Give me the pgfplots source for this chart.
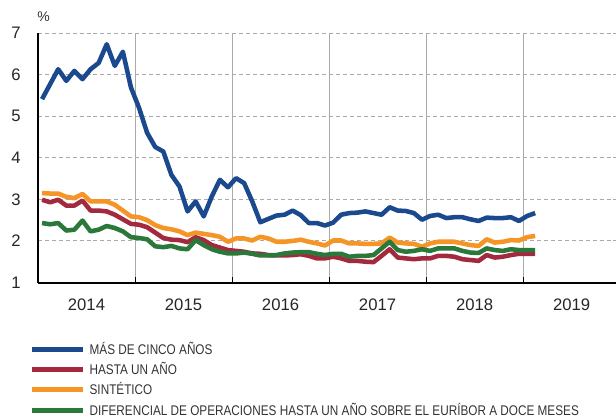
\documentclass[border=0pt]{standalone}
\usepackage{fontspec}
\setmainfont{Liberation Sans}
\newfontfamily\legfont[FakeStretch=0.84]{Liberation Sans}
\usepackage{pgfplots}
\usepackage{pgfplotstable}
\pgfplotsset{compat=1.18}
\definecolor{cblue}{RGB}{26,73,142}
\definecolor{cred}{RGB}{163,42,62}
\definecolor{corange}{RGB}{244,149,38}
\definecolor{cgreen}{RGB}{42,120,58}
\definecolor{cgrid}{RGB}{170,170,170}
\pgfplotstableread{
m b r o g
0.5 5.41 2.99 3.15 2.43
1.5 5.77 2.93 3.14 2.40
2.5 6.13 2.99 3.14 2.43
3.5 5.85 2.85 3.06 2.25
4.5 6.09 2.85 3.03 2.27
5.5 5.89 2.97 3.13 2.49
6.5 6.13 2.73 2.95 2.23
7.5 6.28 2.73 2.95 2.27
8.5 6.73 2.71 2.95 2.36
9.5 6.21 2.63 2.87 2.31
10.5 6.55 2.52 2.73 2.23
11.5 5.69 2.41 2.59 2.09
12.5 5.20 2.39 2.57 2.07
13.5 4.60 2.33 2.50 2.04
14.5 4.26 2.20 2.38 1.87
15.5 4.15 2.07 2.31 1.85
16.5 3.59 2.03 2.28 1.88
17.5 3.31 2.02 2.23 1.82
18.5 2.71 1.97 2.14 1.80
19.5 2.95 2.09 2.20 2.02
20.5 2.59 2.02 2.17 1.90
21.5 3.07 1.90 2.14 1.80
22.5 3.47 1.84 2.10 1.74
23.5 3.29 1.78 1.98 1.70
24.5 3.51 1.76 2.06 1.70
25.5 3.39 1.74 2.06 1.72
26.5 2.95 1.70 2.01 1.69
27.5 2.45 1.69 2.10 1.65
28.5 2.53 1.66 2.06 1.65
29.5 2.61 1.65 1.98 1.66
30.5 2.63 1.65 1.98 1.70
31.5 2.73 1.66 2.00 1.72
32.5 2.62 1.68 2.03 1.73
33.5 2.43 1.64 1.98 1.73
34.5 2.43 1.58 1.94 1.69
35.5 2.37 1.58 1.89 1.66
36.5 2.44 1.62 2.01 1.69
37.5 2.63 1.58 2.01 1.69
38.5 2.67 1.52 1.94 1.62
39.5 2.68 1.52 1.94 1.64
40.5 2.71 1.50 1.93 1.64
41.5 2.67 1.49 1.93 1.66
42.5 2.63 1.64 1.94 1.82
43.5 2.81 1.80 2.08 1.98
44.5 2.73 1.60 1.96 1.78
45.5 2.72 1.58 1.94 1.74
46.5 2.67 1.56 1.93 1.76
47.5 2.51 1.58 1.86 1.80
48.5 2.60 1.58 1.94 1.76
49.5 2.63 1.64 1.98 1.82
50.5 2.55 1.64 1.98 1.82
51.5 2.57 1.62 1.98 1.82
52.5 2.57 1.56 1.94 1.76
53.5 2.52 1.54 1.90 1.72
54.5 2.48 1.52 1.88 1.71
55.5 2.56 1.66 2.04 1.82
56.5 2.55 1.60 1.96 1.78
57.5 2.55 1.62 1.98 1.76
58.5 2.57 1.66 2.02 1.80
59.5 2.48 1.69 2.01 1.78
60.5 2.60 1.69 2.09 1.78
61.5 2.67 1.69 2.12 1.78
}\datatable
\begin{document}
\begin{tikzpicture}[x=0.75pt,y=0.75pt]
\path[use as bounding box] (0,0) rectangle (616,418);
\begin{axis}[
  at={(28.5pt,101.625pt)}, anchor=south west,
  scale only axis, width=433.5pt, height=187.1pt,
  xmin=0, xmax=71.5, ymin=1, ymax=7,
  axis x line*=bottom, axis y line*=left,
  axis line style={black, line width=1.5pt},
  xtick={6,18,30,42,54,66},
  xticklabels={2014,2015,2016,2017,2018,2019},
  ytick={1,2,3,4,5,6,7},
  major tick length=0pt,
  ymajorgrids,
  y grid style={cgrid, dashed, line width=0.75pt, dash pattern=on 3pt off 2.2pt},
  extra x ticks={12,24,36,48,60},
  extra x tick labels={},
  extra x tick style={grid=major, major grid style={cgrid, solid, line width=0.75pt},
     major tick length=4pt, tick style={black, line width=0.75pt}},
  tick align=inside,
  /pgf/number format/assume math mode=true,
  ticklabel style={font=\fontsize{12.5}{15}\selectfont, text=black!85},
  yticklabel style={inner sep=0pt, xshift=-12.75pt},
  xticklabel style={inner sep=0pt, anchor=north, yshift=-12.4pt},
  legend style={at={(rel axis cs:-0.0156,-0.247)}, anchor=north west, draw=none, fill=none,
     inner sep=0pt, row sep=7.7pt, column sep=3.3pt,
     font=\legfont\fontsize{10.5}{12}\selectfont,
     nodes={inner sep=0pt, text height=7.5pt, text depth=0pt, text=black!80}},
  legend cell align=left,
  legend image code/.code={\draw[#1, line width=3.75pt] (0pt,0pt) -- (38.25pt,0pt);},
  every axis plot/.append style={line width=3.4pt, line join=round},
]
\addplot[cblue] table[x=m,y=b]{\datatable};
\addlegendentry{MÁS DE CINCO AÑOS}
\addplot[cred] table[x=m,y=r]{\datatable};
\addlegendentry{HASTA UN AÑO}
\addplot[corange] table[x=m,y=o]{\datatable};
\addlegendentry{SINTÉTICO}
\addplot[cgreen] table[x=m,y=g]{\datatable};
\addlegendentry{DIFERENCIAL DE OPERACIONES HASTA UN AÑO SOBRE EL EURÍBOR A DOCE MESES}
\end{axis}
\node[anchor=base west, inner sep=0pt, font=\fontsize{10.5}{12}\selectfont, text=black!80] at (37,396) {\%};
\end{tikzpicture}
\end{document}
